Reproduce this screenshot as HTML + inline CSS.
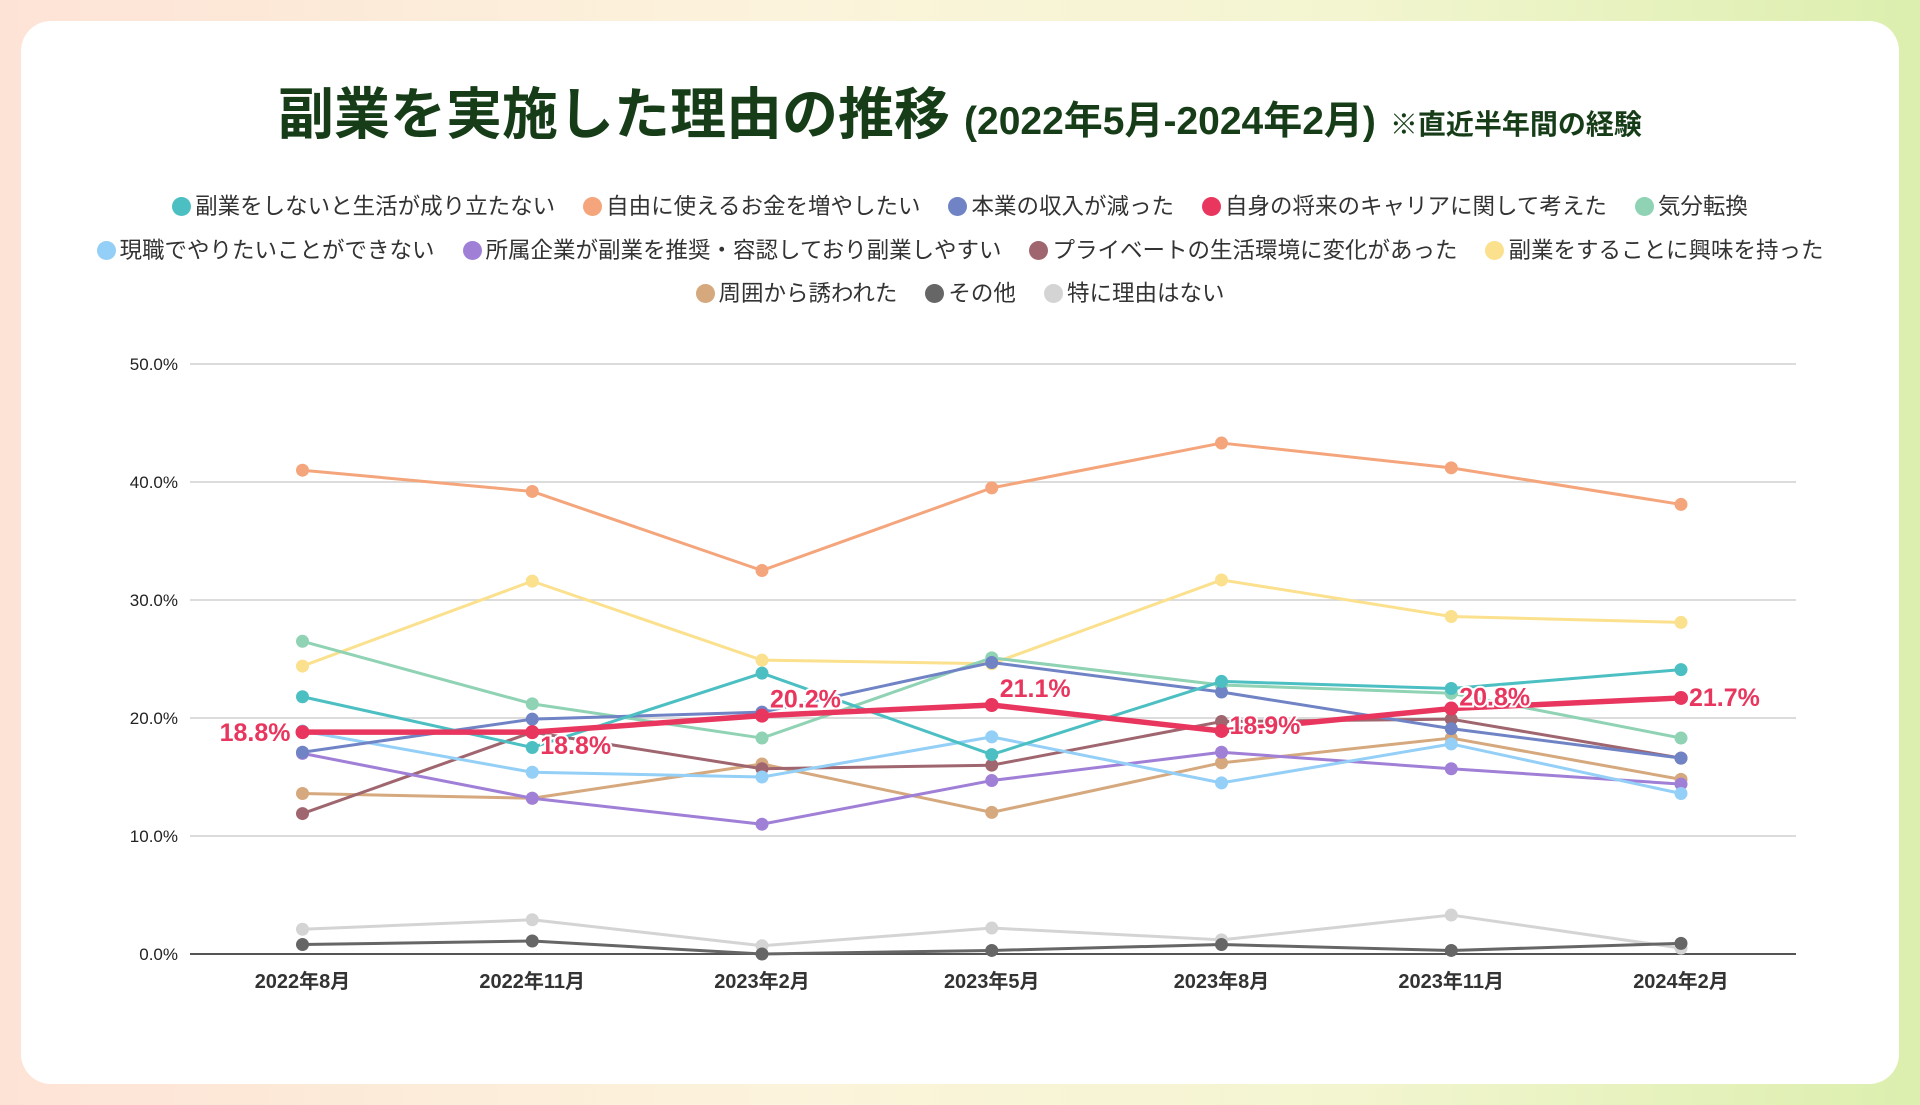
<!DOCTYPE html>
<html><head><meta charset="utf-8">
<style>
html,body{margin:0;padding:0;}
body{width:1920px;height:1105px;overflow:hidden;position:relative;
background:linear-gradient(90deg,#fde3d6 0%,#fcf3dc 40%,#f3f5d0 70%,#dcefae 100%);
font-family:"Liberation Sans","Noto Sans CJK JP",sans-serif;}
#card{position:absolute;left:21px;top:21px;width:1878px;height:1063px;background:#fff;border-radius:30px;}
#title{position:absolute;left:0;top:70px;width:1920px;text-align:center;color:#163d18;font-weight:bold;white-space:nowrap;}
#title .main{font-size:56px;}
#title .sub{font-size:39px;margin-left:14px;}
#title .note{font-size:28px;margin-left:14px;}
.legrow{position:absolute;left:0;width:1920px;text-align:center;font-size:22.5px;color:#333;white-space:nowrap;}
.leg{display:inline-block;margin:0 14px;}
.dot{display:inline-block;width:19px;height:19px;border-radius:50%;vertical-align:-2px;margin-right:4px;}
svg{position:absolute;left:0;top:0;}
</style></head>
<body>
<div id="card"></div>
<div id="title"><span class="main">副業を実施した理由の推移</span><span class="sub">(2022年5月-2024年2月)</span><span class="note">※直近半年間の経験</span></div>
<div id="legend"></div>
<svg id="chart" width="1920" height="1105"></svg>
<script>
const categories=["2022年8月","2022年11月","2023年2月","2023年5月","2023年8月","2023年11月","2024年2月"];
const seriesNames=["副業をしないと生活が成り立たない","自由に使えるお金を増やしたい","本業の収入が減った","自身の将来のキャリアに関して考えた","気分転換","現職でやりたいことができない","所属企業が副業を推奨・容認しており副業しやすい","プライベートの生活環境に変化があった","副業をすることに興味を持った","周囲から誘われた","その他","特に理由はない"];
const seriesColors=["#4cbfc3","#f4a57b","#6f83c5","#e8365e","#8fd2b4","#93cff6","#a07fd7","#a0666f","#fbe08d","#d5a87d","#666666","#d4d4d4"];
const s0=[21.8,17.5,23.8,16.9,23.1,22.5,24.1];
const s1=[41.0,39.2,32.5,39.5,43.3,41.2,38.1];
const s2=[17.1,19.9,20.5,24.7,22.2,19.1,16.6];
const s3=[18.8,18.8,20.2,21.1,18.9,20.8,21.7];
const s4=[26.5,21.2,18.3,25.1,22.8,22.1,18.3];
const s5=[18.9,15.4,15.0,18.4,14.5,17.8,13.6];
const s6=[17.0,13.2,11.0,14.7,17.1,15.7,14.4];
const s7=[11.9,18.8,15.7,16.0,19.7,19.9,16.6];
const s8=[24.4,31.6,24.9,24.6,31.7,28.6,28.1];
const s9=[13.6,13.2,16.1,12.0,16.2,18.3,14.8];
const s10=[0.8,1.1,0.0,0.3,0.8,0.3,0.9];
const s11=[2.1,2.9,0.7,2.2,1.2,3.3,0.5];
const yTicks=[0,10,20,30,40,50];
const highlightLabels=["18.8%","18.8%","20.2%","21.1%","18.9%","20.8%","21.7%"];
const allSeries=[s0,s1,s2,s3,s4,s5,s6,s7,s8,s9,s10,s11];
const drawOrder=[11,10,9,8,7,6,5,4,2,1,0,3];
const legendRows=[[0,1,2,3,4],[5,6,7,8],[9,10,11]];

const NS="http://www.w3.org/2000/svg";
const svg=document.getElementById('chart');
const left=190,right=1796,y0=954,y50=364;
const x=i=>302.5+i*(1681-302.5)/(categories.length-1);
const y=v=>y0-(v/50)*(y0-y50);
function el(t,a){const e=document.createElementNS(NS,t);for(const k in a)e.setAttribute(k,a[k]);svg.appendChild(e);return e;}

const legTops=[189,233,276];
const lg=document.getElementById('legend');
legendRows.forEach((row,ri)=>{
  const r=document.createElement('div');r.className='legrow';r.style.top=legTops[ri]+'px';
  
  
  row.forEach(si=>{
    const s=document.createElement('span');s.className='leg';
    
    
    s.innerHTML='<span class="dot" style="background:'+seriesColors[si]+'"></span>'+seriesNames[si];
    r.appendChild(s);
  });
  lg.appendChild(r);
});

yTicks.forEach(t=>{
  const g=el('line',{x1:left,x2:right,y1:y(t),y2:y(t),stroke:t===0?'#555':'#d0d0d0','stroke-width':t===0?2:1.5});
  
  
  const tx=el('text',{x:178,y:y(t)+6,'text-anchor':'end','font-size':17,fill:'#222','font-family':'Liberation Sans, sans-serif'});
  tx.textContent=t.toFixed(1)+'%';
  
  
});
categories.forEach((c,i)=>{
  const tx=el('text',{x:x(i),y:988,'text-anchor':'middle','font-size':20,'font-weight':'bold',fill:'#333','font-family':'Liberation Sans, Noto Sans CJK JP, sans-serif'});
  tx.textContent=c;
  
  
});

drawOrder.forEach(si=>{
  const d=allSeries[si];const w=si===3?5.5:3;
  const p=el('polyline',{points:d.map((v,i)=>x(i)+','+y(v)).join(' '),fill:'none',stroke:seriesColors[si],'stroke-width':w,'stroke-linejoin':'round'});
  
  
  d.forEach((v,i)=>{
    const c=el('circle',{cx:x(i),cy:y(v),r:si===3?7:6.5,fill:seriesColors[si]});
    
    
  });
});

const offs=[[-12,9,'end'],[8,22,'start'],[8,-8,'start'],[8,-8,'start'],[8,3,'start'],[8,-3,'start'],[8,8,'start']];
s3.forEach((v,i)=>{
  const o=offs[i];
  const t=el('text',{x:x(i)+o[0],y:y(v)+o[1],'text-anchor':o[2],'font-size':25,'font-weight':'bold',fill:'#e8365e',stroke:'#fff','stroke-width':4,'paint-order':'stroke','font-family':'Liberation Sans, sans-serif'});
  t.textContent=highlightLabels[i];
  
  
});
</script>
</body></html>
